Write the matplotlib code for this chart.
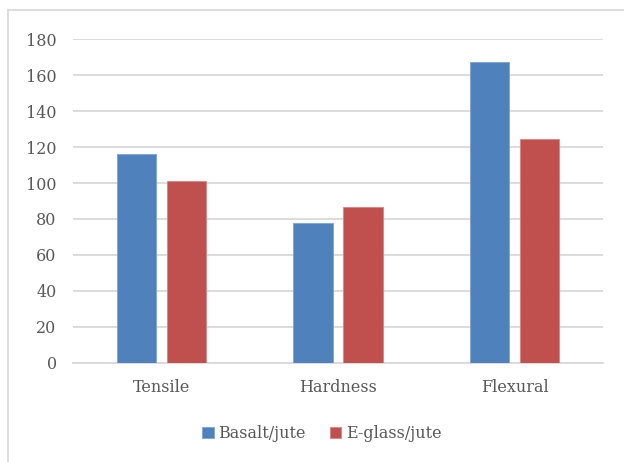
import numpy as np
import matplotlib
matplotlib.use('Agg')
import matplotlib.pyplot as plt
from matplotlib.lines import Line2D

# Data
categories = ['Tensile', 'Hardness', 'Flexural']
basalt_jute = [116.3, 77.6, 167.3]
eglass_jute = [101.1, 86.8, 124.3]
series_names = ['Basalt/jute', 'E-glass/jute']

blue = '#4F81BD'
red = '#C0504D'
text_col = '#595959'
grid_col = '#D9D9D9'

plt.rcParams['font.family'] = ['DejaVu Serif']
fsize = 11.5

fig = plt.figure(facecolor='white', figsize=(6.24, 4.62), dpi=100)
ax = fig.add_axes([0.1175, 0.2149, 0.8488, 0.7000])

x = np.arange(len(categories))
w = 0.224
off = 0.1416
ax.bar(x - off, basalt_jute, w, color=blue, edgecolor='#7EA3D3', linewidth=0.6,
       label=series_names[0], zorder=3)
ax.bar(x + off, eglass_jute, w, color=red, edgecolor='#D88583', linewidth=0.6,
       label=series_names[1], zorder=3)

ax.set_xlim(-0.5, 2.5)
ax.set_ylim(0, 180)
ax.set_yticks(range(0, 181, 20))
ax.set_xticks(x)
ax.set_xticklabels(categories)

ax.grid(axis='y', color=grid_col, linewidth=1.3, zorder=0)
ax.set_axisbelow(True)
for s in ['top', 'right', 'left']:
    ax.spines[s].set_visible(False)
ax.spines['bottom'].set_color(grid_col)
ax.spines['bottom'].set_linewidth(1.3)
ax.tick_params(axis='both', length=0, labelsize=fsize, colors=text_col)
ax.tick_params(axis='y', pad=12)
ax.tick_params(axis='x', pad=12)

# Legend
leg = fig.legend(loc='center', bbox_to_anchor=(0.516, 0.062), ncol=2, frameon=False,
                 prop={'family': 'DejaVu Serif', 'size': fsize}, labelcolor=text_col,
                 handlelength=0.7, handleheight=0.7, handletextpad=0.3, columnspacing=1.5)
for t in leg.get_texts():
    t.set_fontfamily('DejaVu Serif')

# outer chart frame (left and top edges visible)
fig.add_artist(Line2D([8/624, 8/624], [0, 1 - 10/462], color=grid_col, linewidth=1.3,
                      transform=fig.transFigure))
fig.add_artist(Line2D([8/624, 1], [1 - 10/462, 1 - 10/462], color=grid_col, linewidth=1.3,
                      transform=fig.transFigure))

plt.savefig('out.png', dpi=100, facecolor='white')
